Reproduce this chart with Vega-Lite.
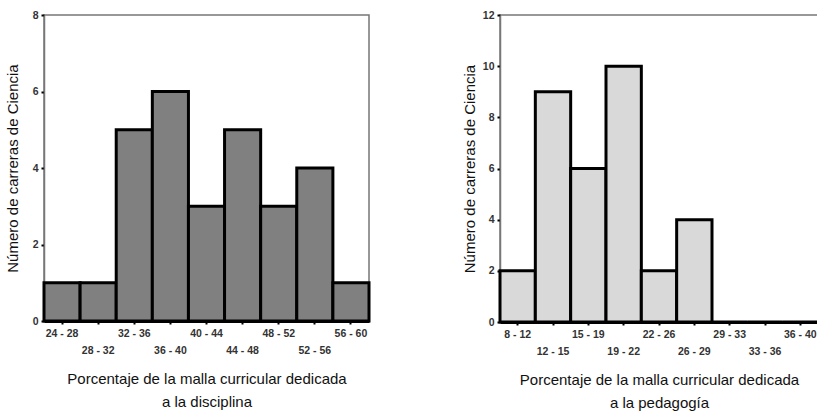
{
  "$schema": "https://vega.github.io/schema/vega-lite/v6.json",
  "background": "white",
  "padding": {"left": 4, "top": 9, "right": 0, "bottom": 0},
  "spacing": 89,
  "config": {
    "font": "Liberation Sans",
    "view": {"stroke": "#777777", "strokeWidth": 1.5},
    "axis": {
      "labelFont": "Liberation Sans",
      "labelFontWeight": "bold",
      "labelFontSize": 10.5,
      "labelColor": "#333333",
      "titleFont": "Liberation Sans",
      "titleFontWeight": "normal",
      "titleFontSize": 15,
      "titleColor": "#111111",
      "tickColor": "#000000",
      "tickWidth": 2,
      "tickSize": 3,
      "grid": false
    }
  },
  "datasets": {
    "disciplina": [
      {"rango": "24 - 28", "n": 1},
      {"rango": "28 - 32", "n": 1},
      {"rango": "32 - 36", "n": 5},
      {"rango": "36 - 40", "n": 6},
      {"rango": "40 - 44", "n": 3},
      {"rango": "44 - 48", "n": 5},
      {"rango": "48 - 52", "n": 3},
      {"rango": "52 - 56", "n": 4},
      {"rango": "56 - 60", "n": 1}
    ],
    "pedagogia": [
      {"rango": "8 - 12", "n": 2},
      {"rango": "12 - 15", "n": 9},
      {"rango": "15 - 19", "n": 6},
      {"rango": "19 - 22", "n": 10},
      {"rango": "22 - 26", "n": 2},
      {"rango": "26 - 29", "n": 4},
      {"rango": "29 - 33", "n": 0},
      {"rango": "33 - 36", "n": 0},
      {"rango": "36 - 40", "n": 0}
    ]
  },
  "hconcat": [
    {
      "width": 325,
      "height": 306,
      "data": {"name": "disciplina"},
      "mark": {"type": "bar", "fill": "#808080", "stroke": "#000000", "strokeWidth": 3},
      "encoding": {
        "x": {
          "field": "rango", "type": "nominal", "sort": null,
          "scale": {"paddingInner": 0, "paddingOuter": 0},
          "axis": {
            "labelAngle": 0,
            "labelPadding": 4,
            "labelLineHeight": 17,
            "labelExpr": "indexof(['28 - 32','36 - 40','44 - 48','52 - 56'], datum.value) >= 0 ? ['', datum.value] : datum.value",
            "domainColor": "#000000",
            "domainWidth": 3,
            "title": ["Porcentaje de la malla curricular dedicada", "a la disciplina"],
            "titleLineHeight": 23,
            "titlePadding": 16
          }
        },
        "y": {
          "field": "n", "type": "quantitative",
          "scale": {"domain": [0, 8]},
          "axis": {
            "values": [0, 2, 4, 6, 8],
            "domainColor": "#777777",
            "domainWidth": 1.5,
            "labelPadding": 3,
            "title": "Número de carreras de Ciencia",
            "titlePadding": 12
          }
        }
      }
    },
    {
      "width": 318,
      "height": 307,
      "data": {"name": "pedagogia"},
      "mark": {"type": "bar", "fill": "#d9d9d9", "stroke": "#000000", "strokeWidth": 3},
      "encoding": {
        "x": {
          "field": "rango", "type": "nominal", "sort": null,
          "scale": {"paddingInner": 0, "paddingOuter": 0},
          "axis": {
            "labelAngle": 0,
            "labelPadding": 4,
            "labelLineHeight": 17,
            "labelExpr": "indexof(['12 - 15','19 - 22','26 - 29','33 - 36'], datum.value) >= 0 ? ['', datum.value] : datum.value",
            "domainColor": "#000000",
            "domainWidth": 3,
            "title": ["Porcentaje de la malla curricular dedicada", "a la pedagogía"],
            "titleLineHeight": 23,
            "titlePadding": 16
          }
        },
        "y": {
          "field": "n", "type": "quantitative",
          "scale": {"domain": [0, 12]},
          "axis": {
            "values": [0, 2, 4, 6, 8, 10, 12],
            "domainColor": "#777777",
            "domainWidth": 1.5,
            "labelPadding": 3,
            "title": "Número de carreras de Ciencia",
            "titlePadding": 5
          }
        }
      }
    }
  ]
}
